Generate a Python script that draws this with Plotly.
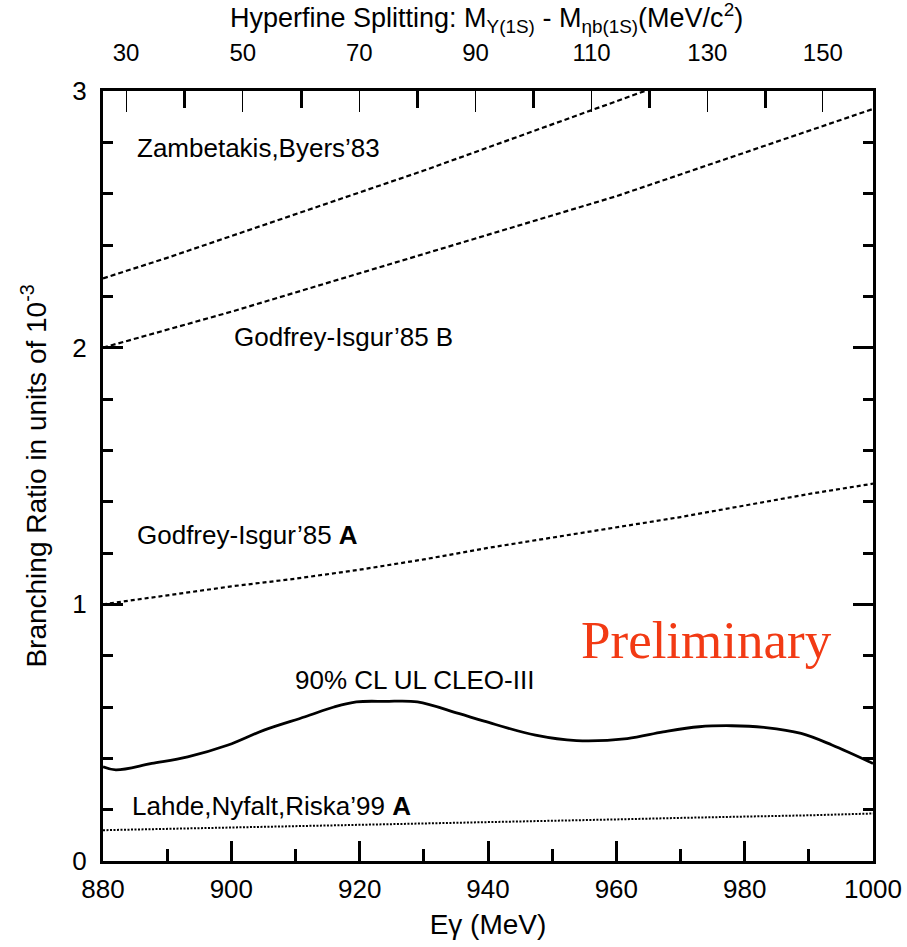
import plotly.graph_objects as go

# Photon energy grid (MeV)
e_gamma = [880, 890, 900, 910, 920, 930, 940, 950, 960, 970, 980, 990, 1000]

# Theory predictions, branching ratio in units of 1e-3
zambetakis_byers = [2.27, 2.35, 2.435, 2.52, 2.605, 2.69, 2.78, 2.87, 2.96, 3.05, 3.14, 3.23, 3.32]
godfrey_isgur_b = [2.00, 2.07, 2.14, 2.215, 2.29, 2.365, 2.44, 2.515, 2.59, 2.675, 2.76, 2.845, 2.93]
godfrey_isgur_a = [1.00, 1.035, 1.07, 1.10, 1.135, 1.175, 1.22, 1.26, 1.30, 1.34, 1.385, 1.43, 1.47]
lahde_nyfalt_riska = [0.12, 0.125, 0.13, 0.137, 0.142, 0.146, 0.15, 0.156, 0.162, 0.168, 0.172, 0.178, 0.185]

# CLEO-III 90% CL upper limit
cleo_e = [880, 882, 887.6, 893.2, 899.5, 905.1, 911.5, 916, 919.5, 924, 929, 935.4, 939.4,
          947.4, 953.8, 961.7, 967.3, 972.9, 978, 983.3, 988.8, 993.6, 1000]
cleo_ul = [0.367, 0.355, 0.38, 0.406, 0.452, 0.51, 0.562, 0.60, 0.62, 0.622, 0.62, 0.575, 0.545,
           0.49, 0.469, 0.477, 0.503, 0.523, 0.527, 0.52, 0.497, 0.452, 0.38]

# Top axis: hyperfine splitting labels (MeV/c^2)
hfs_labels = [30, 50, 70, 90, 110, 130, 150]
hfs_unlabeled = [40, 60, 80, 100, 120, 140]
M_UPS3S = 10355.2
M_UPS1S = 9460.3


def egamma_from_hfs(dm):
    m_eta = M_UPS1S - dm
    return (M_UPS3S ** 2 - m_eta ** 2) / (2 * M_UPS3S)


FONT = "Liberation Sans, Arial, sans-serif"

fig = go.Figure()

fig.add_trace(go.Scatter(x=e_gamma, y=zambetakis_byers, mode="lines",
                         line=dict(color="black", width=2.2, dash="5px,3px"), showlegend=False))
fig.add_trace(go.Scatter(x=e_gamma, y=godfrey_isgur_b, mode="lines",
                         line=dict(color="black", width=2.2, dash="5px,3px"), showlegend=False))
fig.add_trace(go.Scatter(x=e_gamma, y=godfrey_isgur_a, mode="lines",
                         line=dict(color="black", width=2.2, dash="4px,3px"), showlegend=False))
fig.add_trace(go.Scatter(x=cleo_e, y=cleo_ul, mode="lines", line_shape="spline",
                         line=dict(color="black", width=2.8), showlegend=False))
fig.add_trace(go.Scatter(x=e_gamma, y=lahde_nyfalt_riska, mode="lines",
                         line=dict(color="black", width=2, dash="2px,1.5px"), showlegend=False))
# invisible trace to activate the top axis
fig.add_trace(go.Scatter(x=[880, 1000], y=[0, 0], xaxis="x2", mode="lines",
                         line=dict(width=0), hoverinfo="skip", showlegend=False))

fig.update_layout(
    width=907, height=947,
    margin=dict(l=103, r=34, t=91, b=86, autoexpand=False),
    paper_bgcolor="white", plot_bgcolor="white",
    font=dict(family=FONT, color="black", size=26),
    xaxis=dict(
        range=[880, 1000], tickmode="array", tickvals=[880, 900, 920, 940, 960, 980, 1000],
        ticks="inside", ticklen=20, tickwidth=2.5, tickcolor="black",
        minor=dict(tickmode="array", tickvals=[890, 910, 930, 950, 970, 990],
                   ticks="inside", ticklen=12, tickwidth=2.5, tickcolor="black"),
        showline=True, linewidth=3, linecolor="black", mirror=False,
        showgrid=False, zeroline=False, automargin=False,
        tickfont=dict(size=26), ticklabelstandoff=3,
        title=dict(text="Eγ (MeV)", font=dict(size=28), standoff=12),
    ),
    xaxis2=dict(
        overlaying="x", side="top", range=[880, 1000],
        tickmode="array", tickvals=[egamma_from_hfs(v) for v in hfs_labels],
        ticktext=[str(v) for v in hfs_labels],
        ticks="inside", ticklen=21, tickwidth=1.3, tickcolor="black",
        minor=dict(tickmode="array", tickvals=[egamma_from_hfs(v) for v in hfs_unlabeled],
                   ticks="inside", ticklen=17, tickwidth=2.8, tickcolor="black"),
        showline=True, linewidth=3, linecolor="black",
        showgrid=False, zeroline=False, automargin=False,
        tickfont=dict(size=24), ticklabelstandoff=17,
    ),
    yaxis=dict(
        range=[0, 3], tickmode="array", tickvals=[0, 1, 2, 3],
        ticks="inside", ticklen=20, tickwidth=2.5, tickcolor="black",
        minor=dict(dtick=0.2, tick0=0, ticks="inside", ticklen=10, tickwidth=2.5, tickcolor="black"),
        showline=True, linewidth=3, linecolor="black", mirror="ticks",
        showgrid=False, zeroline=False, automargin=False,
        tickfont=dict(size=26), ticklabelstandoff=8,
        title=dict(text="Branching Ratio in units of 10<sup>-3</sup>", font=dict(size=28), standoff=18),
    ),
)

# Top-axis title
fig.add_annotation(x=0.4987, y=1.095, xref="paper", yref="paper", showarrow=False,
                   xanchor="center", yanchor="middle",
                   text="Hyperfine Splitting: M<sub>Υ(1S)</sub> - M<sub>ηb(1S)</sub>(MeV/c<sup>2</sup>)",
                   font=dict(size=27, family=FONT))

labels = [
    (885, 2.777, "Zambetakis,Byers’83"),
    (900.1, 2.04, "Godfrey-Isgur’85 B"),
    (885, 1.27, "Godfrey-Isgur’85 <b>A</b>"),
    (909.6, 0.705, "90% CL UL CLEO-III"),
    (884.2, 0.214, "Lahde,Nyfalt,Riska’99 <b>A</b>"),
]
for x, y, t in labels:
    fig.add_annotation(x=x, y=y, xref="x", yref="y", text=t, showarrow=False,
                       xanchor="left", yanchor="middle", font=dict(size=26, family=FONT))

fig.add_annotation(x=954.2, y=0.86, xref="x", yref="y", text="Preliminary", showarrow=False,
                   xanchor="left", yanchor="middle",
                   font=dict(size=53, family="Liberation Serif, Times New Roman, serif", color="#f23a14"))

fig.write_html("out.html")
